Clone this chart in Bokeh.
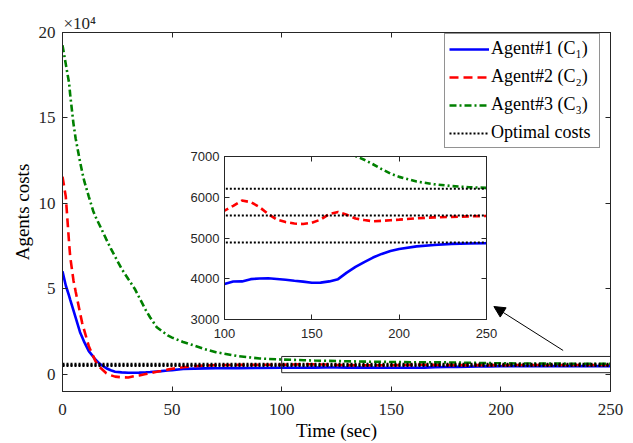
from bokeh.plotting import figure
from bokeh.models import (Legend, LegendItem, LinearAxis, Range1d, FixedTicker,
                          Arrow, NormalHead, BoxAnnotation)
from bokeh.layouts import column
from bokeh.embed import file_html
from bokeh.resources import INLINE

# ---------------- data ----------------
time_s = [0, 1.5, 3, 3.5, 5, 6, 8, 9, 10, 12,
          14, 15, 17, 20, 22, 24, 27, 30, 33, 35,
          38, 40, 43, 45, 48, 50, 55, 60, 65, 70,
          80, 90, 100, 105, 110, 115, 120, 125, 130, 135,
          140, 145, 150, 155, 160, 165, 170, 175, 180, 185,
          190, 195, 200, 210, 220, 230, 240, 250]

agent1_cost = [60300, 52000, 46000, 43800, 37400, 33200, 24700, 21700, 18700, 13600,
               10400, 8750, 6200, 3600, 2400, 1600, 1200, 1000, 1000, 1050,
               1250, 1400, 1700, 1900, 2250, 2500, 3150, 3400, 3500, 3560,
               3660, 3780, 3873, 3931, 3935, 3990, 4005, 4012, 3995, 3975,
               3950, 3930, 3900, 3905, 3935, 3990, 4150, 4290, 4410, 4520,
               4610, 4680, 4730, 4795, 4830, 4855, 4865, 4870]

agent2_cost = [115700, 104000, 77000, 69000, 55000, 48500, 36000, 30000, 25500, 16500,
               10700, 7800, 4200, 700, -500, -1300, -1700, -1800, -1000, -600,
               200, 800, 1500, 2000, 2800, 3300, 4200, 4800, 5200, 5400,
               5550, 5600, 5670, 5790, 5920, 5880, 5760, 5590, 5450, 5390,
               5355, 5343, 5375, 5450, 5590, 5640, 5570, 5480, 5440, 5410,
               5420, 5435, 5450, 5485, 5505, 5518, 5530, 5540]

agent3_cost = [192500, 181500, 170500, 163700, 146700, 138000, 124400, 118300, 112700, 104000,
               95600, 92400, 87100, 79000, 73700, 68900, 61700, 55800, 50000, 45000,
               37600, 33300, 27600, 25700, 22800, 21500, 19000, 16900, 14700, 13000,
               10700, 9300, 8700, 8500, 8300, 8100, 7950, 7800, 7680, 7560,
               7450, 7350, 7270, 7200, 7140, 7090, 7050, 7010, 6920, 6810,
               6690, 6580, 6500, 6385, 6320, 6275, 6245, 6230]

optimal_costs = [4890, 5550, 6210]

legend_labels = ["Agent#1 (C\u2081)", "Agent#2 (C\u2082)", "Agent#3 (C\u2083)", "Optimal costs"]

x_ticks = [0, 50, 100, 150, 200, 250]
y_ticks = [0, 5, 10, 15, 20]            # in units of 1e4
inset_x_ticks = [100, 150, 200, 250]
inset_y_ticks = [3000, 4000, 5000, 6000, 7000]
SCALE = 1e4
multiplier_text = "\u00d710\u2074"

# ------------- styles / layout constants -------------
AX = "#262626"
SERIF = "Liberation Serif"
SANS = "Liberation Sans"
BLUE, RED, GREEN = "#0000FF", "#FF0000", "#008000"

main_x_range = (0, 250)
main_y_range = (-1, 20)
inset_x_range = (100, 250)
inset_y_range = (3000, 7000)
zoom_box = dict(left=100, right=250, bottom=0.1, top=1.05)
arrow_pos = dict(x_start=228.4, y_start=1.4, x_end=196.8, y_end=3.97)

BORDER_L, BORDER_R = 62, 23     # shared by both figures (column aligns them)


def style_axis(ax, ticks, font, size, standoff):
    ax.ticker = FixedTicker(ticks=ticks)
    ax.minor_tick_line_color = None
    ax.major_tick_in = 5
    ax.major_tick_out = 0
    ax.major_tick_line_color = AX
    ax.axis_line_color = AX
    ax.major_label_text_font = font
    ax.major_label_text_font_size = size
    ax.major_label_text_color = AX
    ax.major_label_standoff = standoff


def mirror_axis(p, ticks, side):
    ax = LinearAxis(ticker=FixedTicker(ticks=ticks))
    ax.minor_tick_line_color = None
    ax.major_tick_in = 5
    ax.major_tick_out = 0
    ax.major_tick_line_color = AX
    ax.axis_line_color = AX
    ax.major_label_overrides = {t: "" for t in ticks}
    ax.major_label_standoff = 0
    ax.major_label_text_font_size = "1px"
    p.add_layout(ax, side)


# ---------------- main figure ----------------
p = figure(width=633, height=443,
           x_range=Range1d(*main_x_range), y_range=Range1d(*main_y_range),
           output_backend="svg", toolbar_location=None,
           min_border_left=BORDER_L, min_border_right=BORDER_R,
           min_border_top=32, min_border_bottom=51)
p.xgrid.visible = False
p.ygrid.visible = False
p.outline_line_color = AX
p.outline_line_width = 1
p.background_fill_color = "white"
p.border_fill_color = "white"

# x10^4 multiplier above the top-left corner of the axes
p.title.text = multiplier_text
p.title.align = "left"
p.title.offset = 1
p.title.standoff = 0
p.title.text_font = SERIF
p.title.text_font_size = "17px"
p.title.text_font_style = "normal"
p.title.text_color = AX

style_axis(p.xaxis[0], x_ticks, SERIF, "17px", 12)
style_axis(p.yaxis[0], y_ticks, SERIF, "17px", 7)
p.xaxis.axis_label = "Time (sec)"
p.yaxis.axis_label = "Agents costs"
for ax in (p.xaxis[0], p.yaxis[0]):
    ax.axis_label_text_font = SERIF
    ax.axis_label_text_font_size = "19px"
    ax.axis_label_text_font_style = "normal"
    ax.axis_label_text_color = "#000000"
p.xaxis.axis_label_standoff = 2
p.yaxis.axis_label_standoff = 3
mirror_axis(p, x_ticks, "above")
mirror_axis(p, y_ticks, "right")

a1 = [v / SCALE for v in agent1_cost]
a2 = [v / SCALE for v in agent2_cost]
a3 = [v / SCALE for v in agent3_cost]

r1 = p.line(time_s, a1, line_color=BLUE, line_width=2.6)
r2 = p.line(time_s, a2, line_color=RED, line_width=2.6, line_dash="9 5")
r3 = p.line(time_s, a3, line_color=GREEN, line_width=2.6, line_dash="7 3 2 3")
r_opt = []
for oc in optimal_costs:
    r_opt.append(p.line([time_s[0], time_s[-1]], [oc / SCALE, oc / SCALE],
                        line_color="black", line_width=2, line_dash="2 2"))

p.add_layout(BoxAnnotation(**zoom_box, fill_alpha=0, line_color=AX, line_width=1, line_alpha=1))
p.add_layout(Arrow(end=NormalHead(size=11, fill_color="black", line_color="black"),
                   line_color="black", line_width=1, **arrow_pos))

legend = Legend(items=[LegendItem(label=legend_labels[0], renderers=[r1]),
                       LegendItem(label=legend_labels[1], renderers=[r2]),
                       LegendItem(label=legend_labels[2], renderers=[r3]),
                       LegendItem(label=legend_labels[3], renderers=[r_opt[0]])],
                location=(382, 243))
legend.label_text_font = SERIF
legend.label_text_font_size = "18px"
legend.label_text_color = "black"
legend.glyph_width = 40
legend.glyph_height = 18
legend.label_height = 18
legend.label_width = 104
legend.label_standoff = 2
legend.spacing = 7
legend.padding = 4
legend.margin = 0
legend.border_line_color = AX
legend.border_line_width = 1
legend.background_fill_color = "white"
legend.background_fill_alpha = 1
p.add_layout(legend)

# ---------------- inset figure ----------------
q = figure(frame_width=262, frame_height=163,
           x_range=Range1d(*inset_x_range), y_range=Range1d(*inset_y_range),
           output_backend="svg", toolbar_location=None,
           min_border_left=BORDER_L, min_border_right=BORDER_R,
           min_border_top=12, min_border_bottom=28,
           margin=(-299, 0, 0, 224 - BORDER_L))
q.xgrid.visible = False
q.ygrid.visible = False
q.outline_line_color = AX
q.outline_line_width = 1
q.background_fill_color = "white"
q.border_fill_color = None
style_axis(q.xaxis[0], inset_x_ticks, SANS, "13px", 9)
style_axis(q.yaxis[0], inset_y_ticks, SANS, "13px", 5)
mirror_axis(q, inset_x_ticks, "above")
mirror_axis(q, inset_y_ticks, "right")

q.line(time_s, agent1_cost, line_color=BLUE, line_width=2.6)
q.line(time_s, agent2_cost, line_color=RED, line_width=2.6, line_dash="7 4")
q.line(time_s, agent3_cost, line_color=GREEN, line_width=2.6, line_dash="6 3 2 3")
for oc in optimal_costs:
    q.line([time_s[0], time_s[-1]], [oc, oc], line_color="black", line_width=2, line_dash="2 2")

layout = column(p, q, spacing=0)

open("out.html", "w").write(file_html(layout, INLINE))
